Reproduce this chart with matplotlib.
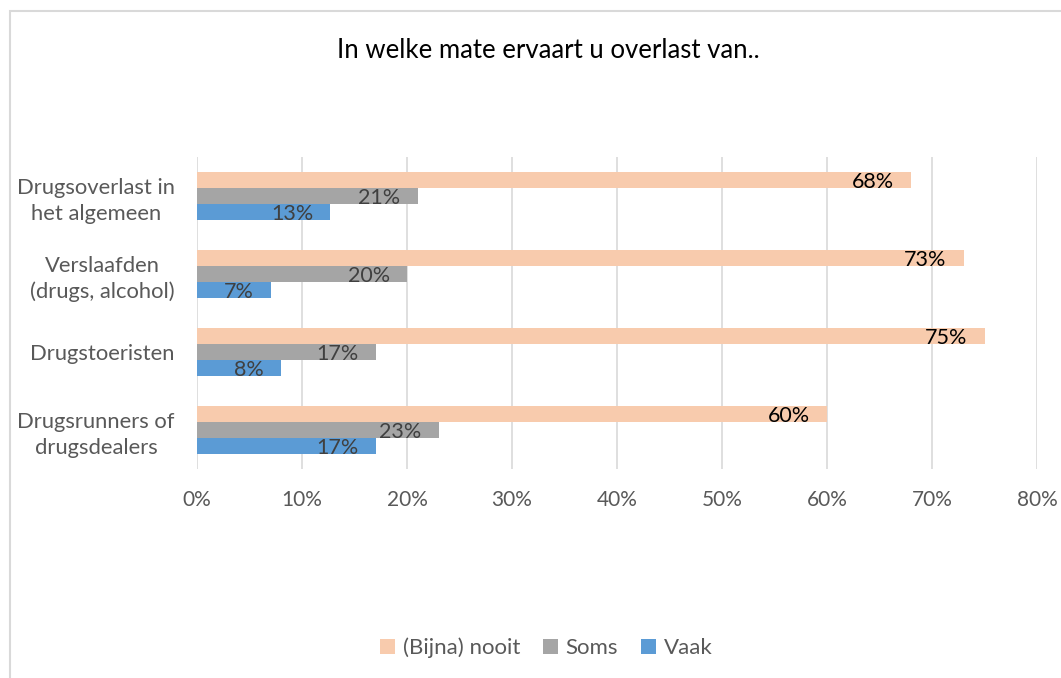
import numpy as np
import matplotlib
matplotlib.use('Agg')
import matplotlib.pyplot as plt
from matplotlib.patches import Patch, Rectangle

plt.rcParams['font.family'] = ['Lato', 'DejaVu Sans']

categories = ['Drugsoverlast in\nhet algemeen', 'Verslaafden\n(drugs, alcohol)',
              'Drugstoeristen', 'Drugsrunners of\ndrugsdealers']
series = ['(Bijna) nooit', 'Soms', 'Vaak']
nooit = [68, 73, 75, 60]
soms = [21, 20, 17, 23]
vaak = [12.7, 7, 8, 17]
labels_nooit = ['68%', '73%', '75%', '60%']
labels_soms = ['21%', '20%', '17%', '23%']
labels_vaak = ['13%', '7%', '8%', '17%']
ticks = [0, 10, 20, 30, 40, 50, 60, 70, 80]

colors = ['#F8CBAD', '#A5A5A5', '#5B9BD5']
label_colors = ['#000000', '#404040', '#404040']
grey_txt = '#595959'

fig = plt.figure(figsize=(10.61, 6.78), dpi=100)
ax = fig.add_axes([197 / 1061, 1 - 469 / 678, 840 / 1061, 312 / 678])

pos = np.arange(len(categories))
h = 16 / 78
data = [nooit, soms, vaak]
lbls = [labels_nooit, labels_soms, labels_vaak]
for i, (vals, c) in enumerate(zip(data, colors)):
    y = pos + (i - 1) * h
    ax.barh(y, vals, height=h, color=c, label=series[i], zorder=2)
    for yy, v, t in zip(y, vals, lbls[i]):
        ax.annotate(t, (v, yy), xytext=(-17, -2), textcoords='offset pixels',
                    ha='right', va='center', fontsize=15.5, color=label_colors[i], zorder=3)

ax.set_xlim(0, 80)
ax.set_ylim(len(categories) - 0.5, -0.5)
ax.set_xticks(ticks)
ax.set_xticklabels([f'{t}%' for t in ticks])
ax.set_yticks(pos)
ax.set_yticklabels(categories)
for lab in ax.get_yticklabels():
    lab.set_multialignment('center')
    lab.set_linespacing(1.35)
    lab.set_fontsize(15.8)
ax.tick_params(axis='both', length=0, labelcolor=grey_txt)
ax.tick_params(axis='x', labelsize=15, pad=15)
ax.tick_params(axis='y', pad=16)
ax.grid(axis='x', color='#D9D9D9', lw=1.2, zorder=0)
ax.set_axisbelow(True)
for s in ax.spines.values():
    s.set_visible(False)

fig.text(0.5165, 1 - 51 / 678, 'In welke mate ervaart u overlast van..',
         ha='center', va='center', fontsize=18.5, color='#000000')

handles = [Patch(facecolor=c, label=s) for c, s in zip(colors, series)]
fig.legend(handles=handles, loc='center', bbox_to_anchor=(0.515, 1 - 648 / 678), ncol=3,
           frameon=False, fontsize=16, labelcolor=grey_txt, handlelength=0.65, handleheight=0.65,
           handletextpad=0.35, columnspacing=1.05)

fig.patches.append(Rectangle((10 / 1061, -0.1), 1.2, 0.1 + 1 - 11 / 678,
                             transform=fig.transFigure, fill=False, edgecolor='#D9D9D9', lw=1.5))

fig.savefig('out.png', dpi=100)
